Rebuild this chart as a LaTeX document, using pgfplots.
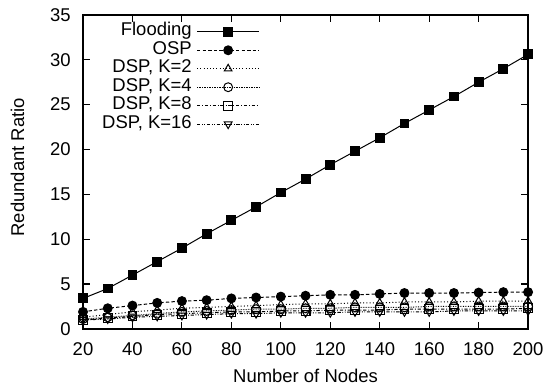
\documentclass[border=0pt]{standalone}
\usepackage{fontspec}
\setmainfont{Liberation Sans}
\usepackage{pgfplots}
\pgfplotsset{compat=1.18}
\begin{document}
\begin{tikzpicture}
\begin{axis}[
  scale only axis,
  width=200pt, height=141.1pt,
  xmin=20, xmax=200, ymin=0, ymax=35,
  xtick={20,40,...,200}, ytick={0,5,...,35},
  tick align=inside,
  tick style={black, line width=0.5pt},
  major tick length=3pt,
  axis line style={line width=0.6pt},
  /pgf/number format/assume math mode=true,
  font=\fontsize{8.3}{10}\selectfont,
  tick label style={font=\fontsize{8.3}{10}\selectfont},
  xticklabel style={yshift=-2.6pt},
  yticklabel style={xshift=-2pt},
  xlabel={Number of Nodes}, ylabel={Redundant Ratio},
  xlabel style={at={([yshift=-21.1pt]axis description cs:0.5,0)}, anchor=center, font=\fontsize{8.3}{10}\selectfont},
  ylabel style={at={([xshift=-29.4pt]axis description cs:0,0.515)}, anchor=center, font=\fontsize{8.3}{10}\selectfont},
  legend style={draw=none, fill=none, at={(0.398,0.977)}, anchor=north east,
    font=\fontsize{8.3}{10}\selectfont, row sep=0pt, column sep=2.2pt, inner sep=0pt,
    nodes={inner sep=0pt, text height=6pt, text depth=2.3pt}},
  legend cell align=right,
  legend plot pos=right,
  legend image code/.code={\draw[mark repeat=2,mark phase=2] plot coordinates {(0pt,0pt) (13.95pt,0pt) (27.9pt,0pt)};},
  every axis plot/.append style={line width=0.45pt, black},
  mark size=2pt,
]
\addplot[solid, mark=square*, mark options={solid}] coordinates {
(20,3.4)(30,4.5)(40,6.0)(50,7.5)(60,9.0)(70,10.6)(80,12.1)(90,13.6)(100,15.2)(110,16.7)(120,18.3)(130,19.8)(140,21.3)(150,22.9)(160,24.4)(170,25.9)(180,27.5)(190,29.0)(200,30.6)};
\addlegendentry{Flooding}
\addplot[dash pattern=on 1.5pt off 1pt, mark=*, mark options={solid}] coordinates {
(20,1.9)(30,2.3)(40,2.6)(50,2.9)(60,3.1)(70,3.2)(80,3.4)(90,3.5)(100,3.6)(110,3.7)(120,3.8)(130,3.8)(140,3.9)(150,4.0)(160,4.0)(170,4.0)(180,4.05)(190,4.1)(200,4.1)};
\addlegendentry{OSP}
\addplot[dash pattern=on 0.45pt off 1pt, mark=triangle, mark options={solid}] coordinates {
(20,1.3)(30,1.6)(40,1.9)(50,2.1)(60,2.3)(70,2.4)(80,2.5)(90,2.6)(100,2.7)(110,2.8)(120,2.8)(130,2.9)(140,2.9)(150,3.0)(160,3.0)(170,3.0)(180,3.1)(190,3.1)(200,3.1)};
\addlegendentry{DSP, K=2}
\addplot[dash pattern=on 0.3pt off 0.45pt, mark=o, mark options={solid}] coordinates {
(20,1.1)(30,1.3)(40,1.5)(50,1.7)(60,1.9)(70,2.0)(80,2.1)(90,2.2)(100,2.2)(110,2.3)(120,2.3)(130,2.4)(140,2.4)(150,2.4)(160,2.5)(170,2.5)(180,2.5)(190,2.5)(200,2.5)};
\addlegendentry{DSP, K=4}
\addplot[dash pattern=on 1.5pt off 0.8pt on 0.4pt off 0.8pt, mark=square, mark options={solid}] coordinates {
(20,1.0)(30,1.2)(40,1.4)(50,1.6)(60,1.7)(70,1.8)(80,1.9)(90,1.9)(100,2.0)(110,2.0)(120,2.1)(130,2.1)(140,2.1)(150,2.2)(160,2.2)(170,2.2)(180,2.2)(190,2.2)(200,2.3)};
\addlegendentry{DSP, K=8}
\addplot[dash pattern=on 1.5pt off 0.7pt on 0.4pt off 0.7pt on 0.4pt off 0.7pt, mark=triangle, mark options={solid, rotate=180}] coordinates {
(20,1.0)(30,1.1)(40,1.3)(50,1.4)(60,1.5)(70,1.6)(80,1.7)(90,1.7)(100,1.8)(110,1.8)(120,1.8)(130,1.9)(140,1.9)(150,1.9)(160,1.9)(170,2.0)(180,2.0)(190,2.0)(200,2.0)};
\addlegendentry{DSP, K=16}
\end{axis}
\pgfresetboundingbox
\useasboundingbox ([shift={(-37.3pt,-28.3pt)}]current axis.south west) rectangle ([shift={(8.5pt,6.7pt)}]current axis.north east);
\end{tikzpicture}
\end{document}
